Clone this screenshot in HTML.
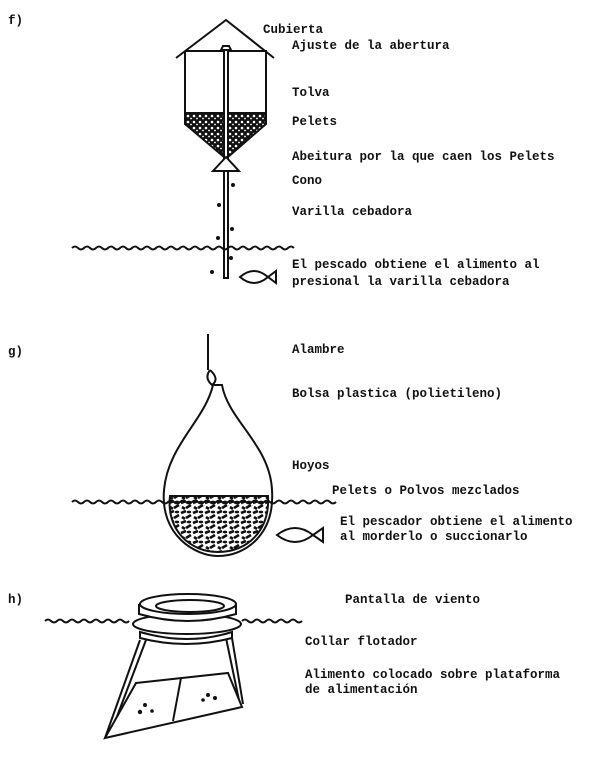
<!DOCTYPE html>
<html><head><meta charset="utf-8"><style>
body{margin:0;background:#fff}
svg text{font-family:"Liberation Mono",monospace;font-size:12.5px;fill:#111;font-weight:bold}
</style></head><body>
<svg width="600" height="752" viewBox="0 0 600 752" xmlns="http://www.w3.org/2000/svg">
<defs>
<pattern id="dots" width="6" height="6" patternUnits="userSpaceOnUse">
<rect width="6" height="6" fill="#111"/><circle cx="2" cy="2" r="1.3" fill="#fff"/><circle cx="5" cy="4.5" r="0.9" fill="#fff"/>
</pattern>
<pattern id="mix" width="12" height="10" patternUnits="userSpaceOnUse">
<rect width="12" height="10" fill="#fff"/><path d="M1 3 l5 -2 M6 8 l5 -3 M2 7 l3 2" stroke="#111" stroke-width="2.6"/><ellipse cx="9" cy="2" rx="2.2" ry="1.4" fill="#111"/>
</pattern>
</defs>
<g fill="none" stroke="#111" stroke-width="2">
<!-- f -->
<polyline points="176,58 226,20 274,58"/>
<line x1="185" y1="51" x2="267" y2="51"/>
<line x1="185" y1="51" x2="185" y2="120"/><line x1="266" y1="51" x2="266" y2="120"/>
<path d="M185 113 L266 113 L266 124 L228 157 L224 157 L185 124 Z" fill="url(#dots)"/>
<rect x="224" y="46" width="4" height="232" fill="#fff"/>
<path d="M221 50 h10 l-2 -4 h-6z" fill="#fff"/>
<path d="M226 157 L213 171 L239 171 Z" fill="#fff"/>
<path d="M72 248 q3 -3 6 0 t6 0 t6 0 t6 0 t6 0 t6 0 t6 0 t6 0 t6 0 t6 0 t6 0 t6 0 t6 0 t6 0 t6 0 t6 0 t6 0 t6 0 t6 0 t6 0 t6 0 t6 0 t6 0 t6 0 t6 0 t6 0 t6 0 t6 0 t6 0 t6 0 t6 0 t6 0 t6 0 t6 0 t6 0 t6 0 t6 0"/>
<path d="M240 277 q14 -12 28 0 l8 -6 v12 l-8 -6 q-14 12 -28 0z"/>
<!-- g -->
<line x1="208" y1="334" x2="208" y2="370"/>
<path d="M210 370 q-6 8 2 15 q8 -6 -2 -15"/>
<path d="M213 385 C205 420 168 445 164 490 C160 535 195 556 218 556 C245 556 275 535 272 490 C270 445 228 420 222 385 Z"/>
<path d="M170 496 L268 496 C270 530 248 552 218 552 C190 552 166 530 170 496Z" fill="url(#mix)"/>
<path d="M72 502 q3 -3 6 0 t6 0 t6 0 t6 0 t6 0 t6 0 t6 0 t6 0 t6 0 t6 0 t6 0 t6 0 t6 0 t6 0 t6 0 t6 0 t6 0 t6 0 t6 0 t6 0 t6 0 t6 0 t6 0 t6 0 t6 0 t6 0 t6 0 t6 0 t6 0 t6 0 t6 0 t6 0 t6 0 t6 0 t6 0 t6 0 t6 0 t6 0 t6 0 t6 0 t6 0 t6 0 t6 0 t6 0"/>
<path d="M277 535 q18 -14 36 0 l10 -7 v14 l-10 -7 q-18 14 -36 0z"/>
<!-- h -->
<path d="M45 621 q3 -3 6 0 t6 0 t6 0 t6 0 t6 0 t6 0 t6 0 t6 0 t6 0 t6 0 t6 0 t6 0 t6 0 t6 0"/>
<path d="M242 621 q3 -3 6 0 t6 0 t6 0 t6 0 t6 0 t6 0 t6 0 t6 0 t6 0 t6 0"/>
<line x1="140" y1="640" x2="105" y2="738"/><line x1="146" y1="640" x2="110" y2="735"/>
<line x1="226" y1="638" x2="240" y2="705"/><line x1="232" y1="638" x2="243" y2="704"/>
<path d="M136 683 L228 673 L242 707 L105 738 Z" fill="#fff"/>
<line x1="181" y1="678" x2="173" y2="721"/>
<ellipse cx="187" cy="624" rx="54" ry="10" fill="#fff"/>
<path d="M139 604 L139 614 Q188 628 236 614 L236 604" fill="#fff"/>
<ellipse cx="188" cy="604" rx="48" ry="10" fill="#fff"/>
<ellipse cx="190" cy="606" rx="34" ry="6"/>
<path d="M140 632 q48 14 92 0 v6 q-46 12 -92 0z" fill="#fff"/>
</g>
<g fill="#111">
<circle cx="233" cy="185" r="2"/><circle cx="219" cy="205" r="2"/><circle cx="232" cy="229" r="2"/><circle cx="218" cy="238" r="2"/><circle cx="231" cy="258" r="2"/><circle cx="212" cy="272" r="2"/>
<circle cx="145" cy="705" r="2"/><circle cx="140" cy="712" r="2.2"/><circle cx="152" cy="711" r="1.8"/><circle cx="208" cy="695" r="2"/><circle cx="215" cy="698" r="2"/><circle cx="203" cy="700" r="1.8"/>
</g>
<text x="8" y="24">f)</text>
<text x="263" y="33">Cubierta</text>
<text x="292" y="49">Ajuste de la abertura</text>
<text x="292" y="96">Tolva</text>
<text x="292" y="125">Pelets</text>
<text x="292" y="160">Abeitura por la que caen los Pelets</text>
<text x="292" y="184">Cono</text>
<text x="292" y="215">Varilla cebadora</text>
<text x="292" y="268">El pescado obtiene el alimento al</text>
<text x="292" y="285">presional la varilla cebadora</text>
<text x="8" y="355">g)</text>
<text x="292" y="353">Alambre</text>
<text x="292" y="397">Bolsa plastica (polietileno)</text>
<text x="292" y="469">Hoyos</text>
<text x="332" y="494">Pelets o Polvos mezclados</text>
<text x="340" y="525">El pescador obtiene el alimento</text>
<text x="340" y="540">al morderlo o succionarlo</text>
<text x="8" y="603">h)</text>
<text x="345" y="603">Pantalla de viento</text>
<text x="305" y="645">Collar flotador</text>
<text x="305" y="678">Alimento colocado sobre plataforma</text>
<text x="305" y="693">de alimentación</text>
</svg>
</body></html>
